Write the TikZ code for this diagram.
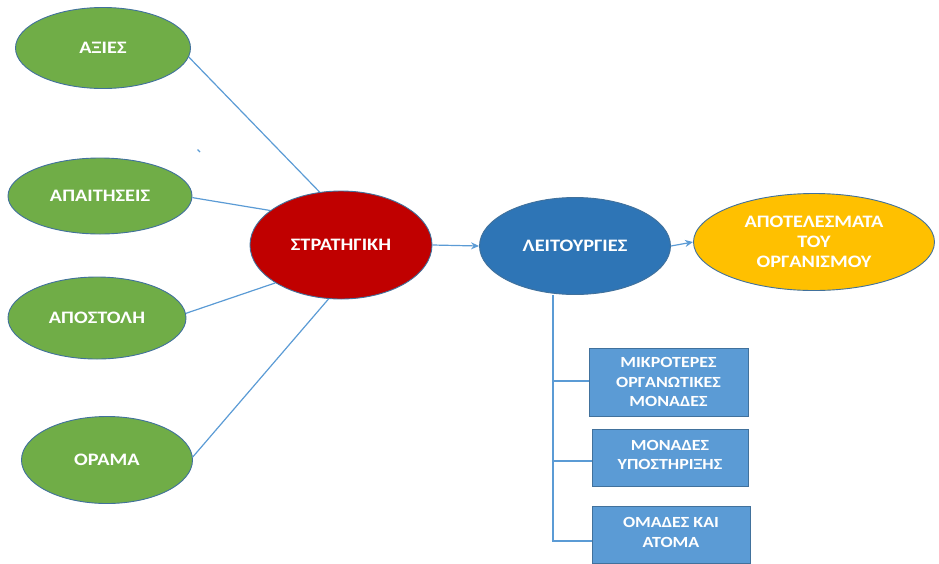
\documentclass[tikz,border=0pt]{standalone}
\usepackage{fontspec}
\setmainfont{Carlito}[BoldFont={Carlito Bold}]
\newfontfamily\labelfont{Carlito}[BoldFont={Carlito Bold}, FakeStretch=1.16]
\usetikzlibrary{shapes.geometric,arrows.meta}
\definecolor{leafgreen}{HTML}{70AD47}
\definecolor{deepred}{HTML}{C00000}
\definecolor{midblue}{HTML}{2E75B6}
\definecolor{gold}{HTML}{FFC000}
\definecolor{lightblue}{HTML}{5B9BD5}
\definecolor{edgeblue}{HTML}{41719C}
\tikzset{
  oval/.style={ellipse, draw=edgeblue, line width=0.9pt, inner sep=0pt,
    text=white, font=\labelfont\bfseries\fontsize{17.5}{20}\selectfont, align=center},
  unitbox/.style={rectangle, draw=edgeblue, line width=0.9pt, fill=lightblue, inner sep=0pt,
    text=white, font=\labelfont\bfseries\fontsize{15.5}{19.5}\selectfont, align=center},
  link/.style={draw=lightblue, line width=1.2pt},
  flow/.style={link, -{Stealth[length=8pt,width=7pt]}}
}
\begin{document}
\begin{tikzpicture}[x=1pt,y=-1pt]
\useasboundingbox (0,0) rectangle (939,563);

% inputs
\node[oval, fill=leafgreen, minimum width=175pt, minimum height=81pt] (axies) at (103,48) {ΑΞΙΕΣ};
\node[oval, fill=leafgreen, minimum width=184pt, minimum height=76pt] (apait) at (100,196) {ΑΠΑΙΤΗΣΕΙΣ};
\node[oval, fill=leafgreen, minimum width=178pt, minimum height=82pt] (apost) at (97,318) {ΑΠΟΣΤΟΛΗ};
\node[oval, fill=leafgreen, minimum width=171pt, minimum height=87pt] (orama) at (107,460) {ΟΡΑΜΑ};

% stray pen mark
\draw[lightblue, line width=1.3pt] (197.5,149.5) -- (200,152);

% main chain
\node[oval, fill=deepred, minimum width=182pt, minimum height=108pt] (strat) at (341,245) {ΣΤΡΑΤΗΓΙΚΗ};
\node[oval, fill=midblue, minimum width=191pt, minimum height=97pt] (leit) at (575,246) {ΛΕΙΤΟΥΡΓΙΕΣ};
\node[oval, fill=gold, minimum width=241pt, minimum height=97pt] (apot) at (814,242) {ΑΠΟΤΕΛΕΣΜΑΤΑ\\ΤΟΥ\\ΟΡΓΑΝΙΣΜΟΥ};

% organisational units
\node[unitbox, minimum width=159pt, minimum height=68pt] (box1) at (668.5,382) {ΜΙΚΡΟΤΕΡΕΣ\\ΟΡΓΑΝΩΤΙΚΕΣ\\ΜΟΝΑΔΕΣ};
\node[unitbox, minimum width=156pt, minimum height=57pt, text depth=5pt] (box2) at (670,457.5) {ΜΟΝΑΔΕΣ\\ΥΠΟΣΤΗΡΙΞΗΣ};
\node[unitbox, minimum width=158pt, minimum height=57pt, text depth=4pt] (box3) at (671,534.5) {ΟΜΑΔΕΣ ΚΑΙ\\ΑΤΟΜΑ};

% connectors into the strategy
\draw[link] (axies.-6) -- (strat.112);
\draw[link] (apait.-1) -- (strat.154);
\draw[link] (apost.3) -- (strat.210);
\draw[link] (orama.2) -- (strat.-103);

% flow arrows
\draw[flow] (strat.east) -- (leit.west);
\draw[flow] (leit.east) -- (apot.west);

% tree of units under the functions
\coordinate (trunk) at (553,541);
\coordinate (tick1) at (553,381);
\coordinate (tick2) at (553,461);
\draw[link] (leit.south -| trunk) -- (trunk) -- (box3.west |- trunk);
\draw[link] (tick1) -- (box1.west |- tick1);
\draw[link] (tick2) -- (box2.west |- tick2);
\end{tikzpicture}
\end{document}
